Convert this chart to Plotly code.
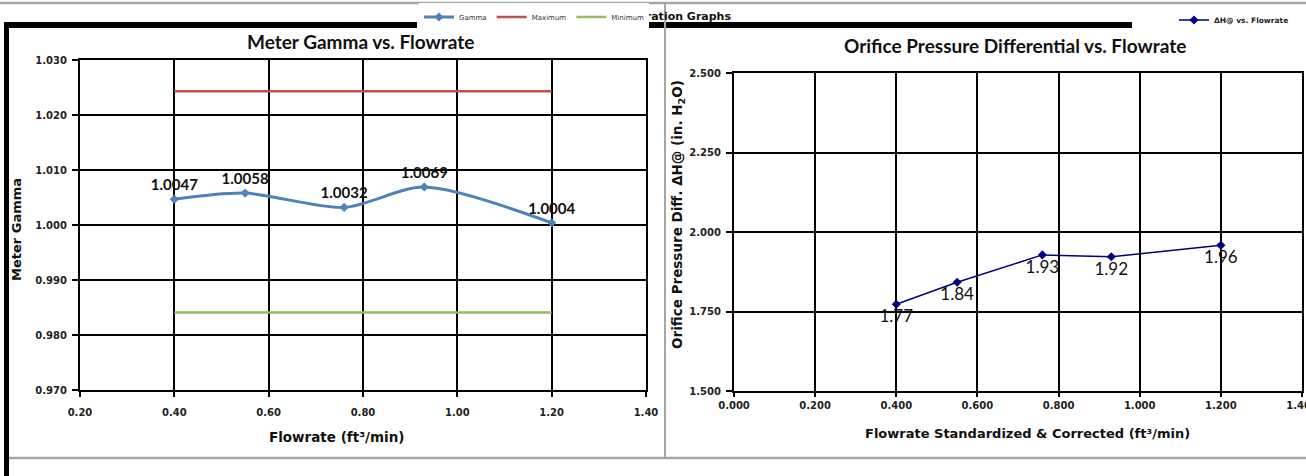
import plotly.graph_objects as go

W, H = 1306, 476

# ---------------- data ----------------
flow = [0.40, 0.55, 0.76, 0.93, 1.20]
gamma = [1.0047, 1.0058, 1.0032, 1.0069, 1.0004]
gamma_max = [1.0243, 1.0243, 1.0243, 1.0243, 1.0243]
gamma_min = [0.9841, 0.9841, 0.9841, 0.9841, 0.9841]

flow_std = [0.40, 0.55, 0.76, 0.93, 1.20]
dh = [1.773, 1.842, 1.928, 1.922, 1.958]

left_xticks = [0.2, 0.4, 0.6, 0.8, 1.0, 1.2, 1.4]
left_yticks = [0.97, 0.98, 0.99, 1.00, 1.01, 1.02, 1.03]
right_xticks = [0.0, 0.2, 0.4, 0.6, 0.8, 1.0, 1.2, 1.4]
right_yticks = [1.5, 1.75, 2.0, 2.25, 2.5]


def px(x):
    return x / W


def py(y):
    return 1 - y / H


BLUE = "#4f81bd"
RED = "#c0504d"
GREEN = "#9bbb59"
NAVY = "#000080"
TICKFONT = dict(family="DejaVu Sans", size=10, color="#222", weight="bold")
TITLEFONT = dict(family="Lato", size=19, color="#111", weight="bold")
AXTITLEFONT = dict(family="DejaVu Sans", size=13, color="#111", weight="bold")

fig = go.Figure()

fig.add_trace(go.Scatter(
    x=flow, y=gamma, name="Gamma", mode="lines+markers+text",
    line=dict(color=BLUE, width=3, shape="spline", smoothing=0.8),
    marker=dict(symbol="diamond", size=7, color=BLUE),
    text=[f"{v:.4f}" for v in gamma], textposition="top center",
    textfont=dict(family="Lato", size=15, color="#111", weight="bold"),
    cliponaxis=False, xaxis="x", yaxis="y", legend="legend"))
fig.add_trace(go.Scatter(
    x=flow, y=gamma_max, name="Maximum", mode="lines",
    line=dict(color=RED, width=2.5), xaxis="x", yaxis="y", legend="legend"))
fig.add_trace(go.Scatter(
    x=flow, y=gamma_min, name="Minimum", mode="lines",
    line=dict(color=GREEN, width=2.5), xaxis="x", yaxis="y", legend="legend"))

fig.add_trace(go.Scatter(
    x=flow_std, y=dh, name="\u0394H@ vs. Flowrate", mode="lines+markers+text",
    line=dict(color=NAVY, width=1.5),
    marker=dict(symbol="diamond", size=7, color=NAVY),
    text=[f"{v:.2f}" for v in dh], textposition="bottom center",
    textfont=dict(family="Lato", size=17, color="#111"),
    cliponaxis=False, xaxis="x2", yaxis="y2", legend="legend2"))

# page header (partly hidden behind the legend, as in the source)
fig.add_trace(go.Scatter(
    x=[1], y=[0.5], mode="text", text=["Calibration Graphs"],
    textposition="middle left",
    textfont=dict(family="DejaVu Sans", size=11, color="#111", weight="bold"),
    showlegend=False, hoverinfo="skip", cliponaxis=False,
    xaxis="x3", yaxis="y3"))

common = dict(showgrid=True, gridcolor="black", gridwidth=1.5,
              showline=True, linecolor="black", linewidth=2, mirror=True,
              ticks="outside", tickcolor="black", tickwidth=1.5,
              zeroline=False, tickfont=TICKFONT, automargin=False)

fig.update_layout(
    width=W, height=H,
    margin=dict(l=0, r=0, t=0, b=0, pad=0, autoexpand=False),
    paper_bgcolor="white", plot_bgcolor="white",
    xaxis=dict(domain=[px(80), px(646)], range=[0.2, 1.4],
               tickvals=left_xticks, tickformat=".2f", ticklen=5,
               ticklabelstandoff=7, anchor="y", **common),
    yaxis=dict(domain=[py(390), py(60)], range=[0.97, 1.03],
               tickvals=left_yticks, tickformat=".3f", ticklen=6,
               ticklabelstandoff=3, anchor="x", **common),
    xaxis2=dict(domain=[px(734), px(1302)], range=[0.0, 1.4],
                tickvals=right_xticks, tickformat=".3f", ticklen=4,
                ticklabeloverflow="allow", anchor="y2", **common),
    yaxis2=dict(domain=[py(391), py(73)], range=[1.5, 2.5],
                tickvals=right_yticks, tickformat=".3f", ticklen=6,
                ticklabelstandoff=3, anchor="x2", **common),
    xaxis3=dict(domain=[px(600), px(731)], range=[0, 1], visible=False,
                anchor="y3", fixedrange=True),
    yaxis3=dict(domain=[py(26), py(8)], range=[0, 1], visible=False,
                anchor="x3", fixedrange=True),
    legend=dict(orientation="h", x=px(649), xanchor="right",
                y=py(17), yanchor="middle", bgcolor="white",
                font=dict(family="DejaVu Sans", size=7, color="#333"),
                itemwidth=30, tracegroupgap=0),
    legend2=dict(orientation="h", x=px(1294), xanchor="right",
                 y=py(20), yanchor="middle", bgcolor="rgba(0,0,0,0)",
                 font=dict(family="DejaVu Sans", size=7.5, color="#222",
                           weight="bold"),
                 itemwidth=30),
    showlegend=True,
)

annotations = [
    dict(text="Meter Gamma vs. Flowrate", x=px(360), y=py(41),
         font=TITLEFONT),
    dict(text="Orifice Pressure Differential vs. Flowrate", x=px(1015),
         y=py(46), font=TITLEFONT),
    dict(text="Meter Gamma", x=px(16), y=py(230), textangle=-90,
         font=AXTITLEFONT),
    dict(text="Flowrate (ft\u00b3/min)", x=px(337), y=py(437),
         font=dict(AXTITLEFONT, size=13.5)),
    dict(text="Orifice Pressure Diff. \u0394H@ (in. H<sub>2</sub>O)",
         x=px(678), y=py(215), textangle=-90,
         font=dict(AXTITLEFONT, size=13.5)),
    dict(text="Flowrate Standardized & Corrected (ft\u00b3/min)",
         x=px(1027), y=py(433), font=AXTITLEFONT),
]
for a in annotations:
    a.update(xref="paper", yref="paper", showarrow=False,
             xanchor="center", yanchor="middle")
fig.update_layout(annotations=annotations)

GRAY = "#a6a6a6"
shapes = [
    dict(type="line", x0=0, x1=1, y0=py(3), y1=py(3),
         line=dict(color=GRAY, width=2.5)),
    dict(type="rect", x0=px(4), x1=px(417), y0=py(28), y1=py(22),
         fillcolor="black", line=dict(width=0)),
    dict(type="rect", x0=px(645), x1=px(1132), y0=py(28), y1=py(22),
         fillcolor="black", line=dict(width=0)),
    dict(type="rect", x0=px(4), x1=px(9), y0=0, y1=py(22),
         fillcolor="black", line=dict(width=0)),
    dict(type="line", x0=px(665), x1=px(665), y0=py(3), y1=py(458),
         line=dict(color=GRAY, width=2)),
    dict(type="line", x0=px(9), x1=1, y0=py(458), y1=py(458),
         line=dict(color=GRAY, width=2.5)),
]
for s in shapes:
    s.update(xref="paper", yref="paper", layer="below")
fig.update_layout(shapes=shapes)

fig.write_html(
    "out.html",
    config={"displayModeBar": False},
    post_script="document.body.style.margin='0';"
                "document.body.style.overflow='hidden';",
)
